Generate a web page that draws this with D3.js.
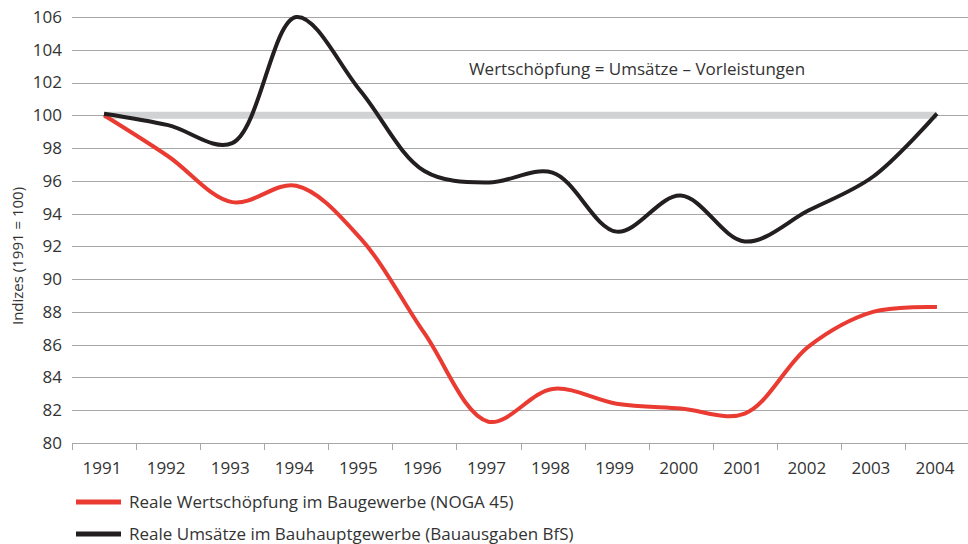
<!DOCTYPE html>
<html>
<head>
<meta charset="utf-8">
<style>
body, html {
  margin: 0;
  background: #fff;
  font-family: "Open Sans", "Noto Sans", sans-serif;
}
.grid line {
  stroke: #a7a7a7;
  stroke-width: 1;
}
.axis text {
  font-size: 17px;
  fill: #333;
}
</style>
<script src="https://d3js.org/d3.v7.min.js"></script>
</head>
<body>
<svg id="chart" width="968" height="544"></svg>
<script>

// years on the x axis
var years = [1991, 1992, 1993, 1994, 1995, 1996, 1997, 1998, 1999, 2000, 2001, 2002, 2003, 2004];

// Reale Wertschöpfung im Baugewerbe (NOGA 45)
var wertschoepfung = [100, 97.5, 94.7, 95.7, 92.5, 86.7, 81.3, 83.3, 82.4, 82.1, 81.8, 85.9, 88.0, 88.3];

// Reale Umsätze im Bauhauptgewerbe (Bauausgaben BfS)
var umsaetze = [100.1, 99.4, 98.3, 106.0, 101.5, 96.6, 95.9, 96.5, 92.9, 95.1, 92.3, 94.2, 96.25, 100.1];

// reference line 1991 = 100
var referenz = years.map(function() { return 100; });

var yTicks = d3.range(80, 107, 2);

var legendLabels = [
  "Reale Wertschöpfung im Baugewerbe (NOGA 45)",
  "Reale Umsätze im Bauhauptgewerbe (Bauausgaben BfS)"
];
var note = "Wertschöpfung = Umsätze – Vorleistungen";

//==========================================
var svg = d3.select("#chart");

var mLeft = 72, mRight = 969, mTop = 17, mBottom = 443;

var x = d3.scaleBand()
    .domain(years)
    .range([mLeft, mRight]);

var y = d3.scaleLinear()
    .domain([80, 106])
    .range([mBottom, mTop]);

var cx = function(d, i) { return x(years[i]) + x.bandwidth() / 2; };

// gridlines
svg.append("g")
    .attr("class", "grid")
    .selectAll("line")
    .data(yTicks)
    .enter().append("line")
    .attr("x1", mLeft)
    .attr("x2", 968)
    .attr("y1", function(d) { return Math.round(y(d)) + 0.5; })
    .attr("y2", function(d) { return Math.round(y(d)) + 0.5; });

// y tick labels
svg.append("g")
    .attr("class", "axis")
    .selectAll("text")
    .data(yTicks)
    .enter().append("text")
    .attr("x", 62)
    .attr("y", function(d) { return y(d); })
    .attr("dy", "0.35em")
    .attr("text-anchor", "end")
    .text(function(d) { return d; });

// x axis ticks at band boundaries
var xAxis = svg.append("g").attr("class", "axis");
xAxis.selectAll("line")
    .data(years)
    .enter().append("line")
    .attr("x1", function(d) { return Math.round(x(d)) + 0.5; })
    .attr("x2", function(d) { return Math.round(x(d)) + 0.5; })
    .attr("y1", Math.round(y(80)))
    .attr("y2", Math.round(y(80)) + 7)
    .attr("stroke", "#a7a7a7");

xAxis.selectAll("text")
    .data(years)
    .enter().append("text")
    .attr("x", function(d) { return x(d) + x.bandwidth() / 2 - 2; })
    .attr("y", 474)
    .attr("text-anchor", "middle")
    .text(function(d) { return d; });

// y axis title
svg.append("text")
    .attr("transform", "translate(23,256) rotate(-90)")
    .attr("text-anchor", "middle")
    .style("font-size", "15px")
    .style("fill", "#333")
    .text("Indizes (1991 = 100)");

// lines
var line = d3.line()
    .x(cx)
    .y(function(d) { return y(d); })
    .curve(d3.curveCatmullRom.alpha(0.5));

svg.append("path")
    .datum(referenz)
    .attr("fill", "none")
    .attr("stroke", "#d1d2d4")
    .attr("stroke-width", 7)
    .attr("d", line);

svg.append("path")
    .datum(wertschoepfung)
    .attr("fill", "none")
    .attr("stroke", "#ea3b32")
    .attr("stroke-width", 4)
    .attr("d", line);

svg.append("path")
    .datum(umsaetze)
    .attr("fill", "none")
    .attr("stroke", "#231f20")
    .attr("stroke-width", 4)
    .attr("d", line);

// annotation
svg.append("text")
    .attr("x", 637)
    .attr("y", 75)
    .attr("text-anchor", "middle")
    .style("font-size", "17px")
    .style("fill", "#333")
    .text(note);

// legend
var legendColors = ["#ea3b32", "#231f20"];
var legend = svg.append("g")
    .selectAll("g")
    .data(legendLabels)
    .enter().append("g")
    .attr("transform", function(d, i) { return "translate(76," + (502 + i * 32) + ")"; });

legend.append("line")
    .attr("x1", 0)
    .attr("x2", 45)
    .attr("stroke-width", 5)
    .attr("stroke", function(d, i) { return legendColors[i]; });

legend.append("text")
    .attr("x", 53)
    .attr("dy", "0.35em")
    .style("font-size", "17px")
    .style("fill", "#333")
    .text(function(d) { return d; });

</script>
</body>
</html>
